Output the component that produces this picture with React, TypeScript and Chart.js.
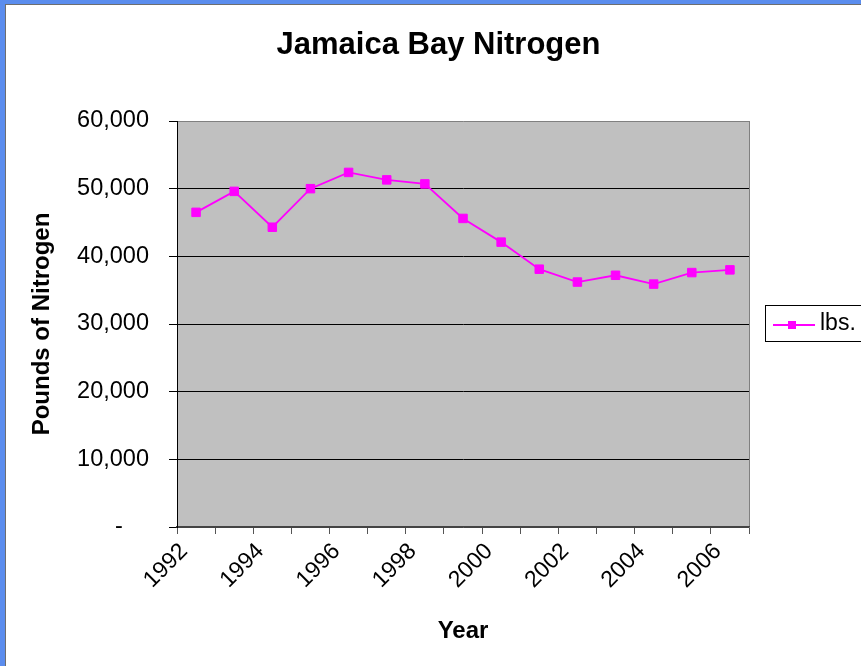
import React, { useEffect, useRef } from 'react';
import { Chart, registerables } from 'chart.js';

Chart.register(...registerables);

const CHART_TITLE = 'Jamaica Bay Nitrogen';
const X_TITLE = 'Year';
const Y_TITLE = 'Pounds of Nitrogen';
const SERIES_LABEL = 'lbs.';

const years = [
  '1992', '1993', '1994', '1995', '1996', '1997', '1998', '1999',
  '2000', '2001', '2002', '2003', '2004', '2005', '2006',
];
const nitrogenLbs = [
  46500, 49600, 44300, 50000, 52400, 51300, 50700, 45600,
  42100, 38100, 36200, 37200, 35900, 37600, 38000,
];
const labeledYears = ['1992', '1994', '1996', '1998', '2000', '2002', '2004', '2006'];
const yMin = 0;
const yMax = 60000;
const yStep = 10000;

const FONT = "'Liberation Sans', Arial, sans-serif";
const MAGENTA = '#FF00FF';

const backgroundPlugin = {
  id: 'plotBackground',
  beforeDraw(chart: any) {
    const { ctx, chartArea } = chart;
    ctx.save();
    ctx.fillStyle = '#FFFFFF';
    ctx.fillRect(0, 0, chart.width, chart.height);
    ctx.fillStyle = '#C0C0C0';
    ctx.fillRect(chartArea.left, chartArea.top, chartArea.right - chartArea.left, chartArea.bottom - chartArea.top);
    ctx.restore();
  },
};

const legendBoxPlugin = {
  id: 'legendBox',
  afterDraw(chart: any) {
    const { ctx, chartArea } = chart;
    const ds = chart.data.datasets[0];
    const bx = Math.round(chartArea.right + 16);
    const bw = 101;
    const bh = 36;
    const cy = (chartArea.top + chartArea.bottom) / 2;
    const by = Math.round(cy - bh / 2 - 1);
    ctx.save();
    ctx.fillStyle = '#FFFFFF';
    ctx.fillRect(bx, by, bw, bh);
    ctx.strokeStyle = '#000000';
    ctx.lineWidth = 1;
    ctx.strokeRect(bx + 0.5, by + 0.5, bw, bh);
    const ly = by + 20;
    ctx.strokeStyle = ds.borderColor;
    ctx.lineWidth = 1.8;
    ctx.beginPath();
    ctx.moveTo(bx + 8, ly);
    ctx.lineTo(bx + 50, ly);
    ctx.stroke();
    ctx.fillStyle = ds.pointBackgroundColor;
    ctx.fillRect(bx + 27 - 4, ly - 4, 8, 8);
    ctx.fillStyle = '#000000';
    ctx.font = `23px ${FONT}`;
    ctx.textAlign = 'left';
    ctx.textBaseline = 'middle';
    ctx.fillText(ds.label, bx + 55, ly - 1);
    ctx.restore();
  },
};

function formatY(v: number): string {
  if (v === 0) return '-\u2007\u2007';
  return v.toLocaleString('en-US');
}

export default function App() {
  const canvasRef = useRef<HTMLCanvasElement | null>(null);

  useEffect(() => {
    const canvas = canvasRef.current;
    if (!canvas) return;
    const chart = new Chart(canvas, {
      type: 'line',
      data: {
        labels: years,
        datasets: [
          {
            label: SERIES_LABEL,
            data: nitrogenLbs,
            borderColor: MAGENTA,
            backgroundColor: MAGENTA,
            borderWidth: 1.8,
            pointStyle: 'rect',
            pointRadius: 6,
            pointBackgroundColor: MAGENTA,
            pointBorderColor: MAGENTA,
            pointBorderWidth: 1,
            tension: 0,
            fill: false,
            yAxisID: 'y',
          },
        ],
      },
      options: {
        responsive: false,
        animation: false,
        devicePixelRatio: 1,
        layout: { padding: 0 },
        plugins: {
          legend: { display: false },
          tooltip: { enabled: false },
          title: {
            display: true,
            text: CHART_TITLE,
            color: '#000000',
            font: { family: FONT, size: 31, weight: 'bold' },
            padding: { top: 26.5, bottom: 57.3 },
          },
        },
        scales: {
          x: {
            type: 'category',
            offset: true,
            grid: {
              display: true,
              offset: true,
              drawOnChartArea: true,
              drawTicks: true,
              tickLength: 7,
              color: (ctx: any) => (ctx.index === undefined ? '#808080' : 'rgba(0,0,0,0)'),
              tickColor: '#555555',
              lineWidth: 1,
            },
            border: { display: true, color: '#444444', width: 1.5 },
            ticks: {
              autoSkip: false,
              maxRotation: 45,
              minRotation: 45,
              padding: 4,
              labelOffset: -12,
              color: '#000000',
              font: { family: FONT, size: 23 },
              callback: (_v: any, i: number) => (labeledYears.includes(years[i]) ? years[i] : ''),
            },
            title: {
              display: true,
              text: X_TITLE,
              color: '#000000',
              font: { family: FONT, size: 24, weight: 'bold' },
              padding: { top: 0, bottom: 20.6 },
            },
            afterFit: (scale: any) => {
              scale.height = 139;
            },
          },
          y: {
            type: 'linear',
            position: 'left',
            min: yMin,
            max: yMax,
            grid: {
              display: true,
              drawTicks: true,
              tickLength: 8,
              color: (ctx: any) => {
                const v = ctx.tick ? ctx.tick.value : null;
                if (v === yMax) return '#808080';
                if (v === yMin) return '#444444';
                return '#000000';
              },
              tickColor: '#000000',
              lineWidth: 1,
            },
            border: { display: true, color: '#000000', width: 1 },
            ticks: {
              stepSize: yStep,
              padding: 20,
              color: '#000000',
              font: { family: FONT, size: 23.5 },
              callback: (v: any) => formatY(Number(v)),
            },
            title: {
              display: true,
              text: Y_TITLE,
              color: '#000000',
              font: { family: FONT, size: 24, weight: 'bold' },
              padding: { top: 28, bottom: 0 },
            },
            afterFit: (scale: any) => {
              scale.width = 177;
            },
          },
          legendSpace: {
            type: 'linear',
            position: 'right',
            display: true,
            grid: { display: false, drawTicks: false },
            border: { display: false },
            ticks: { display: false },
            afterFit: (scale: any) => {
              scale.width = 128;
            },
          },
        },
      },
      plugins: [backgroundPlugin, legendBoxPlugin],
    } as any);
    return () => chart.destroy();
  }, []);

  return (
    <div
      style={{
        position: 'fixed',
        left: 0,
        top: 0,
        width: 861,
        height: 666,
        overflow: 'hidden',
        background: '#FFFFFF',
      }}
    >
      <canvas
        ref={canvasRef}
        width={877}
        height={666}
        style={{ position: 'absolute', left: 0, top: 0, width: 877, height: 666 }}
      />
      <div style={{ position: 'absolute', left: 0, top: 0, width: 5, height: 666, background: '#5B8DEE' }} />
      <div style={{ position: 'absolute', left: 0, top: 0, width: 861, height: 4, background: '#5B8DEE' }} />
      <div style={{ position: 'absolute', left: 5, top: 4, width: 1, height: 662, background: '#6E6E6E' }} />
      <div style={{ position: 'absolute', left: 5, top: 4, width: 856, height: 1, background: '#6E6E6E' }} />
    </div>
  );
}
